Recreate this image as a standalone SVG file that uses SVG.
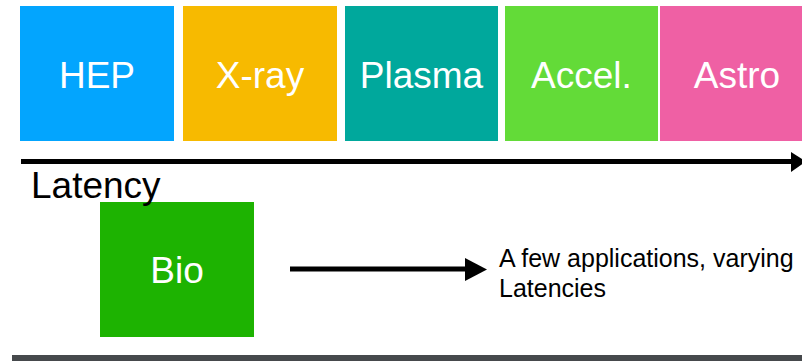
<svg xmlns="http://www.w3.org/2000/svg" width="802" height="361" viewBox="0 0 802 361">
  <style>
    .lbl { font-family: "Liberation Sans", Arial, sans-serif; font-size: 37px; fill: #ffffff; text-anchor: middle; }
    .txt { font-family: "Liberation Sans", Arial, sans-serif; fill: #000000; }
    .conn { stroke: #000000; stroke-width: 5; fill: none; }
  </style>
  <rect width="802" height="361" fill="#ffffff"/>

  <g id="hep">
    <rect x="20" y="6" width="154" height="135" fill="#03a5fe"/>
    <text class="lbl" x="97" y="88">HEP</text>
  </g>
  <g id="xray">
    <rect x="183" y="6" width="154" height="135" fill="#f7ba00"/>
    <text class="lbl" x="260" y="88">X-ray</text>
  </g>
  <g id="plasma">
    <rect x="345" y="6" width="153" height="135" fill="#00a89c"/>
    <text class="lbl" x="421.5" y="88">Plasma</text>
  </g>
  <g id="accel">
    <rect x="505" y="6" width="153" height="135" fill="#63db38"/>
    <text class="lbl" x="581.5" y="88">Accel.</text>
  </g>
  <g id="astro">
    <rect x="660" y="6" width="150" height="135" fill="#ef60a4"/>
    <text class="lbl" x="737" y="88">Astro</text>
  </g>
  <g id="bio">
    <rect x="100" y="202" width="154" height="135" fill="#1db301"/>
    <text class="lbl" x="177" y="283">Bio</text>
  </g>

  <g id="connectors">
    <line class="conn" x1="21" y1="161.5" x2="793" y2="161.5"/>
    <polygon points="791,152 806,161.5 791,172" fill="#000000"/>
    <line class="conn" x1="290" y1="269" x2="467" y2="269"/>
    <polygon points="465,258 487,269.5 465,281" fill="#000000"/>
  </g>

  <text class="txt" x="31" y="198" font-size="37">Latency</text>
  <text class="txt" x="499" y="267" font-size="25">A few applications, varying</text>
  <text class="txt" x="499" y="297" font-size="25">Latencies</text>

  <rect x="12" y="355" width="790" height="6" fill="#46494c"/>
</svg>
